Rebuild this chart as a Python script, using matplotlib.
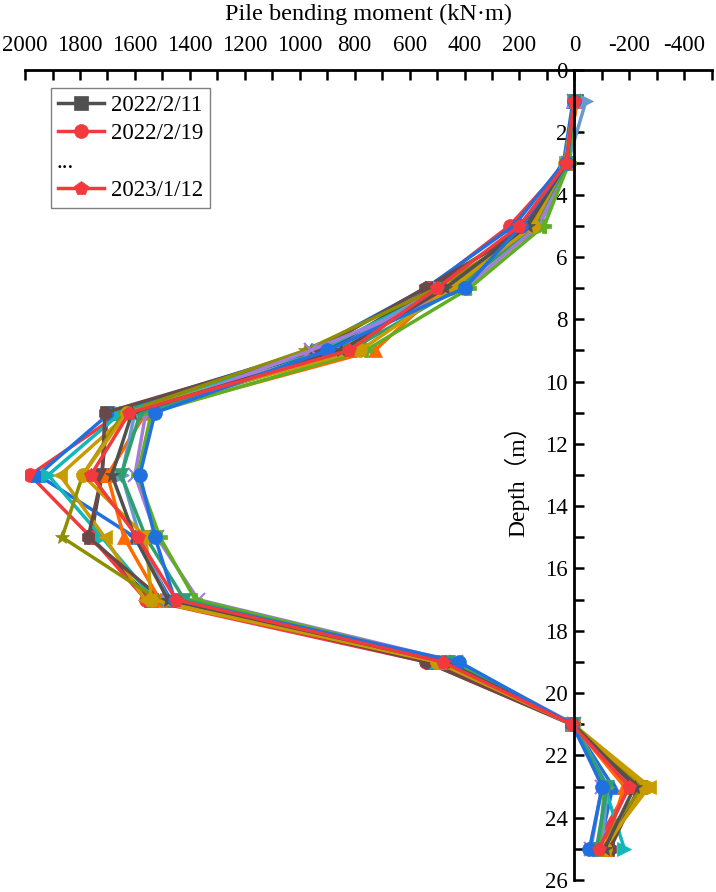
import numpy as np
import matplotlib.pyplot as plt
from matplotlib.lines import Line2D
from matplotlib.ticker import MultipleLocator

plt.rcParams['font.family'] = ['Liberation Serif', 'Noto Sans CJK SC']
plt.rcParams['axes.unicode_minus'] = False

depth = [1, 3, 5, 7, 9, 11, 13, 15, 17, 19, 21, 23, 25]

# bending moment per monitoring date (kN·m)
s01 = [-5, 25, 180, 520, 900, 1700, 1720, 1760, 1540, 520, 8, -240, -120]
s02 = [-10, 30, 236, 530, 800, 1650, 1982, 1760, 1560, 540, 10, -200, -70]
s03 = [5, 40, 220, 540, 960, 1690, 1953, 1600, 1470, 500, 5, -140, -90]
s04 = [0, 30, 109, 470, 930, 1650, 1916, 1720, 1530, 500, 10, -110, -182]
s05 = [0, 25, 130, 436, 870, 1620, 1873, 1710, 1564, 470, 5, -273, -100]
s06 = [-5, 20, 150, 545, 940, 1709, 1720, 1770, 1500, 540, 12, -236, -130]
s07 = [-10, 30, 160, 480, 727, 1560, 1700, 1640, 1510, 490, 5, -182, -110]
s08 = [-42, 25, 127, 491, 880, 1600, 1648, 1582, 1480, 460, 0, -120, -100]
s09 = [0, 20, 140, 500, 980, 1640, 1790, 1865, 1516, 500, 5, -250, -80]
s10 = [0, 25, 130, 400, 960, 1560, 1600, 1520, 1370, 430, 0, -100, -60]
s11 = [0, 20, 110, 382, 760, 1540, 1590, 1509, 1380, 450, 5, -110, -90]
s12 = [0, 25, 150, 420, 820, 1580, 1650, 1560, 1420, 460, 5, -120, -80]
s13 = [0, 35, 150, 450, 780, 1630, 1790, 1560, 1540, 500, 10, -260, -110]
s14 = [0, 30, 170, 470, 850, 1610, 1684, 1600, 1480, 470, 5, -220, -110]
s15 = [0, 30, 193, 400, 900, 1527, 1582, 1527, 1455, 420, 8, -102, -55]
s16 = [0, 30, 200, 500, 820, 1620, 1760, 1590, 1450, 480, 10, -200, -90]

series = [s01, s02, s03, s04, s05, s06, s07, s08, s09, s10, s11, s12, s13, s14, s15, s16]

colors = ['#505050', '#F2393D', '#1E6FE0', '#12B8B8', '#C89B00', '#6B4848',
          '#FF6A00', '#6A9ACD', '#8E8E00', '#A57BDC', '#5FAF22', '#2E9F70',
          '#C89B00', '#505050', '#2070E0', '#F2393D']
markers = ['s', 'o', '^', '>', '<', 'h', '^', '>', '*', 'x', 'P', 'v',
           'o', '*', 'o', 'p']

fig = plt.figure(figsize=(7.16, 8.92), dpi=100)
ax = fig.add_axes([0.035, 0.0135, 0.959, 0.908])

handles = []
for vals, c, m in zip(series, colors, markers):
    h, = ax.plot(vals, depth, color=c, marker=m, markersize=10, linewidth=2.5,
                 markeredgewidth=1.5 if m == 'x' else 0.5, markeredgecolor=c)
    handles.append(h)

ax.set_xlim(2000, -500)
ax.set_ylim(26, 0)

ax.spines['left'].set_position(('data', 0))
ax.spines['right'].set_visible(False)
ax.spines['bottom'].set_visible(False)
for sp in ['left', 'top']:
    ax.spines[sp].set_linewidth(2)

ax.xaxis.tick_top()
ax.xaxis.set_label_position('top')
ax.set_xticks(np.arange(2000, -401, -200))
ax.xaxis.set_minor_locator(MultipleLocator(100))
ax.yaxis.set_major_locator(MultipleLocator(2))
ax.yaxis.set_minor_locator(MultipleLocator(1))
ax.tick_params(axis='both', which='both', direction='in', length=7, width=1.8,
               labelsize=16.5)
ax.tick_params(axis='x', which='both', top=True, bottom=False, pad=10)
ax.tick_params(axis='y', which='both', left=True, right=False, pad=5)

ax.set_xlabel('Pile bending moment (kN·m)', fontsize=17.5, labelpad=11)
ax.set_ylabel('Depth（m）', fontsize=17)
ax.yaxis.set_label_coords(0.735, 0.5)

blank = Line2D([], [], linestyle='none', marker='none')
leg = ax.legend([handles[0], handles[1], blank, handles[-1]],
                ['2022/2/11', '2022/2/19', '...', '2023/1/12'],
                loc='upper left', bbox_to_anchor=(0.038, 0.978), fontsize=16.5,
                fancybox=False, edgecolor='#808080', framealpha=1,
                handlelength=2.0, handletextpad=0.3, borderpad=0.3,
                labelspacing=0.32, borderaxespad=0)
leg.get_frame().set_linewidth(1)
# the "..." row sits under the line handles, as in the source figure
leg.get_texts()[2].set_x(-54)

fig.savefig('out.png', dpi=100)
